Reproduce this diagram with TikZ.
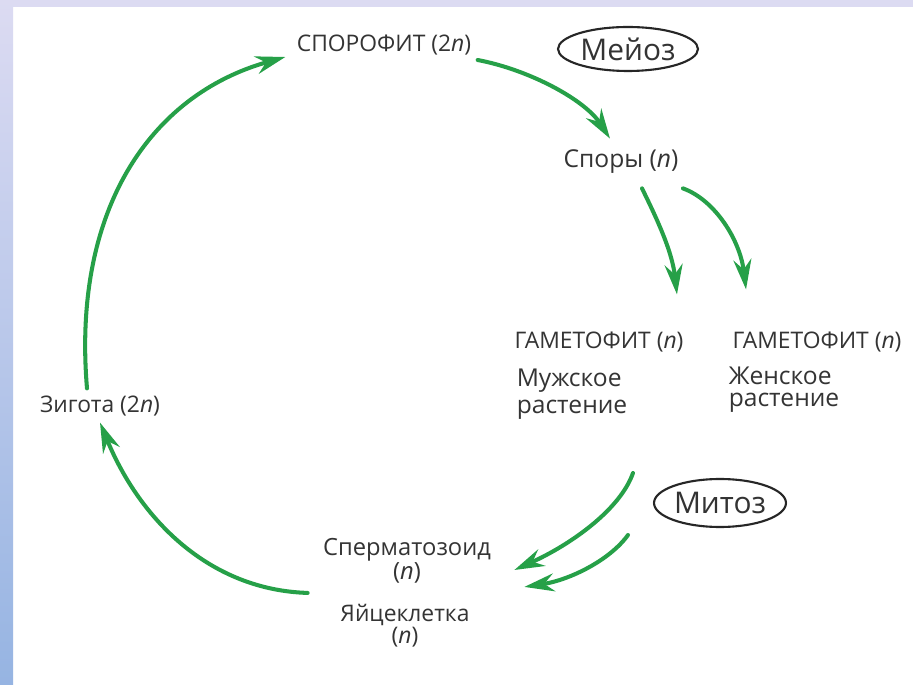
\documentclass[tikz,border=0pt]{standalone}
\usepackage{fontspec}
\setmainfont{Open Sans}
\usetikzlibrary{arrows.meta}
\usetikzlibrary{shapes.geometric}
\definecolor{LCGreen}{RGB}{38,160,72}
\definecolor{LCInk}{RGB}{52,52,52}
\definecolor{LCLav}{RGB}{220,219,242}
\definecolor{LCBlue}{RGB}{150,180,226}
\begin{document}
\begin{tikzpicture}[
x=0.02cm,
y=-0.02cm,
every node/.style={text=LCInk,outer sep=0pt,inner sep=2pt},
stage/.style={font=\fontsize{13}{15}\selectfont},
gamete/.style={font=\fontsize{13.5}{13.6}\selectfont,align=center},
plant/.style={font=\fontsize{14}{15.3}\selectfont,align=left},
phase/.style={ellipse,draw=black!85,line width=1.2pt,inner sep=0pt,font=\fontsize{17}{18}\selectfont,text=black!80},
cycle/.style={-{Stealth[length=6mm,width=3.6mm,inset=2mm]},line width=2.3pt,draw=LCGreen,line cap=round}
]

\path[use as bounding box] (0,0) rectangle (913,685);
\fill[white] (0,0) rectangle (913,685);
\fill[LCLav] (0,0) rectangle (913,7);
\shade[top color=LCLav,bottom color=LCBlue] (0,0) rectangle (13,685);

\node[stage] (sporophyte) at (384,45) {СПОРОФИТ (2\textit{n})};
\node[phase,minimum width=2.8cm,minimum height=0.88cm] (meiosis) at (628,49) {Мейоз};
\node[stage,font=\fontsize{14}{15}\selectfont] (spores) at (621,162) {Споры (\textit{n})};

\node[stage] (gamMale) at (599,342) {ГАМЕТОФИТ (\textit{n})};
\node[plant] (male) at (572,394) {Мужское\\ растение};
\node[stage] (gamFemale) at (817,342) {ГАМЕТОФИТ (\textit{n})};
\node[plant,font=\fontsize{14}{12.5}\selectfont] (female) at (784,390) {Женское\\растение};

\node[stage] (zygote) at (100,406) {Зигота (2\textit{n})};
\node[phase,minimum width=2.64cm,minimum height=0.96cm] (mitosis) at (720,503) {Митоз};

\node[gamete] (sperm) at (407,561) {Сперматозоид\\(\textit{n})};
\node[gamete,font=\fontsize{13}{12.5}\selectfont] (egg) at (405,626) {Яйцеклетка\\(\textit{n})};

\coordinate (fromMale) at (633,473);
\coordinate (fromFemale) at (628,535);

\draw[cycle] ([shift={(-13,-4)}]zygote.north) .. controls (72,210) and (150,95) .. ([shift={(-8,12)}]sporophyte.west);
\draw[cycle] ([shift={(3,15)}]sporophyte.east) .. controls (530,70) and (585,100) .. ([shift={(-11,-8)}]spores.north);
\draw[cycle] ([shift={(21,11)}]spores.south) .. controls (655,215) and (672,250) .. ([shift={(-10,-34)}]gamMale.north east);
\draw[cycle] ([shift={(1,11)}]spores.south east) .. controls (715,200) and (740,240) .. ([shift={(17,-39)}]gamFemale.north west);
\draw[cycle] (fromMale) .. controls (620,510) and (570,545) .. ([shift={(20,9)}]sperm.east);
\draw[cycle] (fromFemale) .. controls (610,560) and (570,580) .. ([shift={(30,0)}]sperm.south east);
\draw[cycle] ([shift={(-12,6)}]sperm.south west) .. controls (210,590) and (140,520) .. ([shift={(0,3)}]zygote.south);

\end{tikzpicture}
\end{document}
